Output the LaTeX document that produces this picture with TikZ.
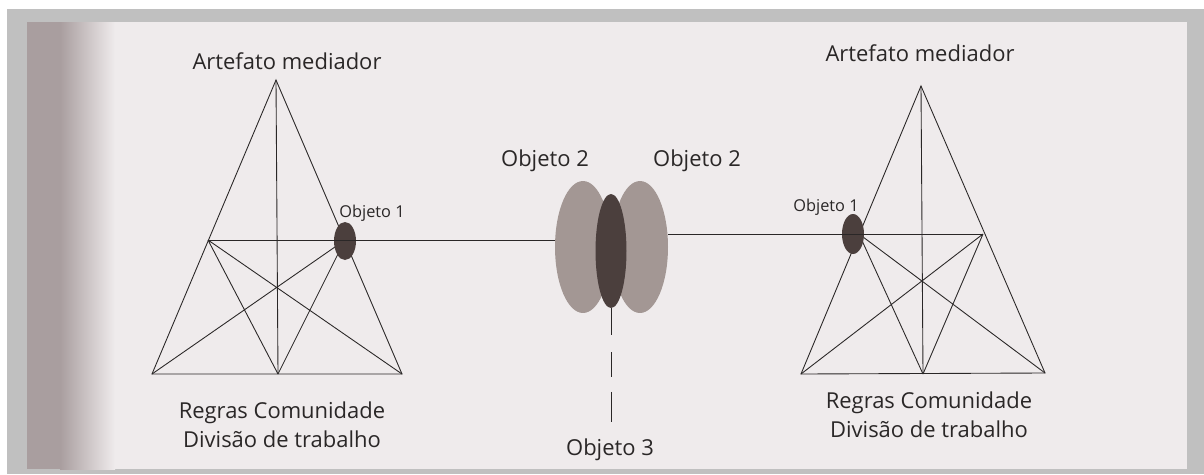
\documentclass[tikz,border=0pt]{standalone}
\usepackage{fontspec}
\setmainfont{Open Sans}
\usetikzlibrary{shapes.geometric}

\definecolor{pagebg}{HTML}{EFEBEC}
\definecolor{spine}{HTML}{A99E9F}
\definecolor{frame}{HTML}{C0C0C0}
\definecolor{objlight}{HTML}{A39794}
\definecolor{objdark}{HTML}{4B3F3D}
\definecolor{ink}{HTML}{2A2727}

\begin{document}
\begin{tikzpicture}[x=0.02cm, y=-0.02cm, line width=0.5pt,
	every node/.style={font=\fontsize{12.5}{16}\selectfont, text=ink},
	small/.style={font=\fontsize{9.3}{11}\selectfont},
	objsmall/.style={ellipse, fill=objdark, inner sep=0pt, minimum width=0.44cm, minimum height=0.76cm},
	objbig/.style={ellipse, fill=objlight, inner sep=0pt, minimum width=1.12cm, minimum height=2.64cm}]
	\useasboundingbox (0,0) rectangle (1204,474);
	% page and its frame
	\fill[frame] (7,9) rectangle (1204,474);
	\fill[pagebg] (27,22) rectangle (1187,469);
	\fill[spine] (27,22) rectangle (60,469);
	\shade[left color=spine, right color=pagebg] (60,22) rectangle (115,469);
	% left triangle
	\coordinate (la) at (276,80);
	\coordinate (lbl) at (152,374);
	\coordinate (lbm) at (278,374);
	\coordinate (lbr) at (402,374);
	\coordinate (lml) at (208,240);
	\coordinate (lmr) at (345,240);
	\draw[ink] (la) -- (lbl) -- (lbr) -- cycle;
	\draw[ink] (la) -- (lbm);
	\draw[ink] (lml) -- (lbr) (lml) -- (lbm) (lmr) -- (lbl) (lmr) -- (lbm);
	% right triangle
	\coordinate (ra) at (921,86);
	\coordinate (rbl) at (801,374);
	\coordinate (rbm) at (923,374);
	\coordinate (rbr) at (1045,373);
	\coordinate (rml) at (859,234);
	\coordinate (rmr) at (983,234);
	\draw[ink] (ra) -- (rbl) -- (rbr) -- cycle;
	\draw[ink] (ra) -- (rbm);
	\draw[ink] (rml) -- (rbr) (rml) -- (rbm) (rmr) -- (rbl) (rmr) -- (rbm);
	% shared objects in the middle
	\node[objbig] (obj2l) at (583,247) {};
	\node[objbig] (obj2r) at (640,247) {};
	\node[objsmall, minimum width=0.62cm, minimum height=2.28cm] (obj3) at (611,251) {};
	\node[objsmall] (obj1l) at (345,241) {};
	\node[objsmall, minimum height=0.8cm] (obj1r) at (853,234) {};
	\draw[ink] (lml) -- (obj2l.west |- lml);
	\draw[ink] (obj2r.east |- rmr) -- (rmr);
	\coordinate (obj3end) at (611,422);
	\draw[ink, dash pattern=on 15pt off 10pt on 14pt off 8.5pt on 17pt] (obj3.south) -- (obj3end);
	% labels
	\node[anchor=base] (toolsl) at (287,69) {Artefato mediador};
	\node[anchor=base] (toolsr) at (920,61) {Artefato mediador};
	\node[anchor=base, small] (o1l) at (372,217) {Objeto 1};
	\node[anchor=base, small] (o1r) at (826,211) {Objeto 1};
	\node[anchor=base] (o2l) at (545,166) {Objeto 2};
	\node[anchor=base] (o2r) at (697,166) {Objeto 2};
	\node[anchor=base] (o3) at (610,455) {Objeto 3};
	\node[anchor=base, align=center] (basel) at (282,447) {Regras Comunidade\\Divisão de trabalho};
	\node[anchor=base, align=center] (baser) at (929,437) {Regras Comunidade\\Divisão de trabalho};
\end{tikzpicture}
\end{document}
